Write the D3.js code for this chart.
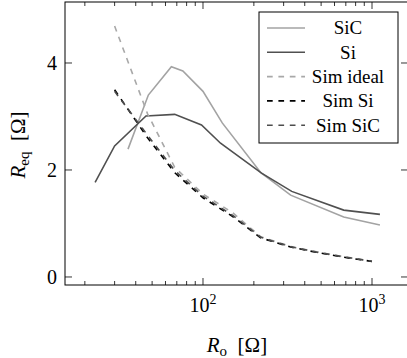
<!DOCTYPE html>
<html>
<head>
<meta charset="utf-8">
<script src="https://cdn.jsdelivr.net/npm/d3@7"></script>
<style>
  html, body { margin: 0; padding: 0; background: #fff; }
  svg { display: block; }
  text { font-family: "Liberation Serif", "DejaVu Serif", "Times New Roman", Tinos, serif; }
</style>
</head>
<body>
<svg id="chart" width="407" height="358"></svg>
<script>
const width = 407, height = 358;

// measured curves (R_o in ohm, R_eq in ohm)
const sicRo = [36, 47.5, 65, 76, 100, 130, 220, 330, 680, 1114];
const sicReq = [2.39, 3.4, 3.93, 3.85, 3.47, 2.88, 1.95, 1.53, 1.12, 0.97];
const siRo = [23, 30, 46, 68, 98, 127, 222, 335, 680, 1114];
const siReq = [1.77, 2.45, 3.01, 3.04, 2.84, 2.5, 1.94, 1.6, 1.25, 1.17];

// simulated curves
const simRo = [30, 47, 68, 100, 150, 220, 330, 470, 680, 1000];
const simIdeal = [4.69, 3.05, 2.05, 1.55, 1.2, 0.75, 0.57, 0.47, 0.38, 0.29];
const simSi = [3.5, 2.6, 1.95, 1.48, 1.13, 0.73, 0.56, 0.46, 0.37, 0.29];
const simSiC = [3.47, 2.65, 1.99, 1.51, 1.15, 0.74, 0.565, 0.465, 0.375, 0.295];

const yTicks = [0, 2, 4];
const xMajor = [100, 1000];
const xMinor = [20, 30, 40, 50, 60, 70, 80, 90, 200, 300, 400, 500, 600, 700, 800, 900];

const series = [
  { name: 'SiC', x: sicRo, y: sicReq, color: '#a3a3a3', dash: null },
  { name: 'Si', x: siRo, y: siReq, color: '#505050', dash: null },
  { name: 'Sim ideal', x: simRo, y: simIdeal, color: '#a8a8a8', dash: '5.7,5.7' },
  { name: 'Sim Si', x: simRo, y: simSi, color: '#000', dash: '5.7,5.7' },
  { name: 'Sim SiC', x: simRo, y: simSiC, color: '#4d4d4d', dash: '5.7,5.7' }
];

const serif = '"Liberation Serif", "DejaVu Serif", serif';
const pl = 65, pr = 408, pt = 2, pb = 285;

const x = d3.scaleLog().domain([15.26, 1633]).range([pl, pr]);
const y = d3.scaleLinear().domain([-0.15, 5.14]).range([pb, pt]);

const svg = d3.select('#chart').attr('font-family', serif);

// ticks (drawn inward, on all four sides)
const g = svg.append('g').attr('stroke', '#000').attr('stroke-width', 0.8);
xMinor.forEach(v => {
  g.append('line').attr('x1', x(v)).attr('x2', x(v)).attr('y1', pb).attr('y2', pb - 4);
  g.append('line').attr('x1', x(v)).attr('x2', x(v)).attr('y1', pt).attr('y2', pt + 4);
});
xMajor.forEach(v => {
  g.append('line').attr('x1', x(v)).attr('x2', x(v)).attr('y1', pb).attr('y2', pb - 7);
  g.append('line').attr('x1', x(v)).attr('x2', x(v)).attr('y1', pt).attr('y2', pt + 7);
});
yTicks.forEach(v => {
  g.append('line').attr('x1', pl).attr('x2', pl + 7).attr('y1', y(v)).attr('y2', y(v));
  g.append('line').attr('x1', pr).attr('x2', pr - 7).attr('y1', y(v)).attr('y2', y(v));
});

// curves
const line = d3.line().x(d => x(d[0])).y(d => y(d[1]));
series.forEach(s => {
  svg.append('path')
    .datum(s.x.map((v, i) => [v, s.y[i]]))
    .attr('fill', 'none')
    .attr('stroke', s.color)
    .attr('stroke-width', 1.6)
    .attr('stroke-dasharray', s.dash)
    .attr('d', line);
});

// frame
svg.append('rect')
  .attr('x', pl).attr('y', pt)
  .attr('width', pr - pl).attr('height', pb - pt)
  .attr('fill', 'none').attr('stroke', '#000').attr('stroke-width', 1);

// tick labels
yTicks.forEach(v => {
  svg.append('text')
    .attr('font-family', serif)
    .attr('x', pl - 8).attr('y', y(v)).attr('dy', '0.34em')
    .attr('text-anchor', 'end').attr('font-size', 20)
    .text(v);
});
xMajor.forEach(v => {
  const t = svg.append('text')
    .attr('font-family', serif)
    .attr('x', x(v)).attr('y', 312)
    .attr('text-anchor', 'middle').attr('font-size', 20);
  t.append('tspan').text('10');
  t.append('tspan').attr('dy', -8).attr('font-size', 14).text(Math.round(Math.log10(v)));
});

// axis labels
const xl = svg.append('text')
  .attr('font-family', serif)
  .attr('x', 237).attr('y', 352)
  .attr('text-anchor', 'middle').attr('font-size', 21);
xl.append('tspan').attr('font-style', 'italic').text('R');
xl.append('tspan').attr('font-size', 15).attr('dy', 4).text('o');
xl.append('tspan').attr('dy', -4).text('\u2002[Ω]');

const yl = svg.append('text')
  .attr('font-family', serif)
  .attr('transform', 'translate(25,145) rotate(-90)')
  .attr('text-anchor', 'middle').attr('font-size', 21);
yl.append('tspan').attr('font-style', 'italic').text('R');
yl.append('tspan').attr('font-size', 15).attr('dy', 4).text('eq');
yl.append('tspan').attr('dy', -4).text('\u2002[Ω]');

// legend
const lg = svg.append('g');
lg.append('rect')
  .attr('x', 259).attr('y', 12).attr('width', 139).attr('height', 131)
  .attr('fill', '#fff').attr('stroke', '#000').attr('stroke-width', 1);
series.forEach((s, i) => {
  const yy = 28 + i * 24.3;
  lg.append('line')
    .attr('x1', 267).attr('x2', 305).attr('y1', yy).attr('y2', yy)
    .attr('stroke', s.color).attr('stroke-width', 1.6)
    .attr('stroke-dasharray', s.dash);
  lg.append('text')
    .attr('font-family', serif)
    .attr('x', 348).attr('y', yy).attr('dy', '0.34em')
    .attr('text-anchor', 'middle').attr('font-size', 19)
    .text(s.name);
});
</script>
</body>
</html>
